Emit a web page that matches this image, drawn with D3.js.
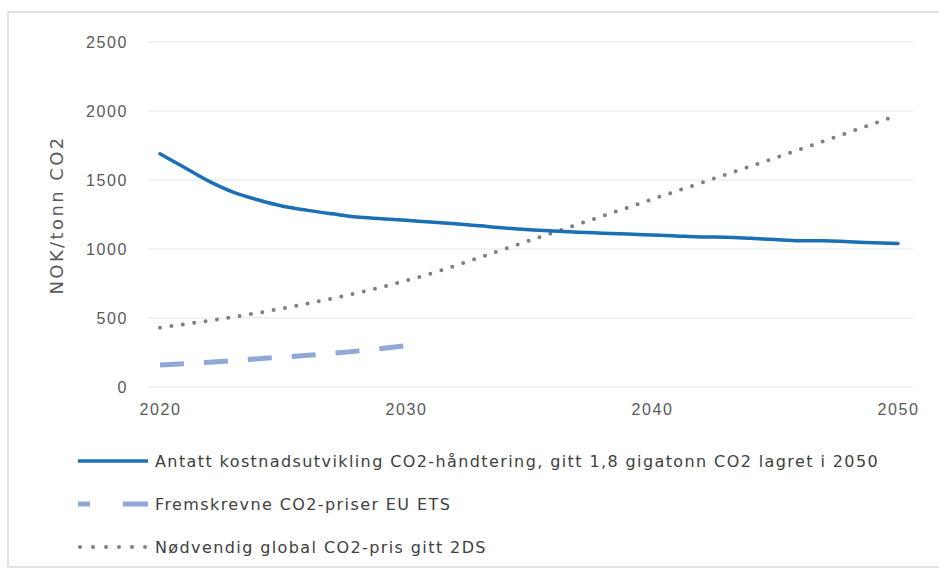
<!DOCTYPE html>
<html>
<head>
<meta charset="utf-8">
<script src="https://cdn.jsdelivr.net/npm/d3@7"></script>
<style>
  body { margin: 0; background: #fff; }
  svg { display: block; font-family: "DejaVu Sans", "Open Sans", sans-serif; }
</style>
</head>
<body>
<svg id="chart" width="939" height="572"></svg>
<script>
// data
const ccsYears = d3.range(2020, 2051)
const ccsCost = [1690, 1590, 1490, 1410, 1355, 1310, 1280, 1255, 1232, 1220,
                 1208, 1195, 1183, 1168, 1152, 1140, 1130, 1122, 1115, 1108,
                 1102, 1094, 1087, 1086, 1078, 1068, 1060, 1060, 1052, 1046, 1040]
const etsYears = [2020, 2022, 2024, 2026, 2028, 2030]
const etsPrice = [160, 180, 205, 230, 260, 300]
const dsYears = [2020, 2025, 2030, 2035, 2040, 2045, 2050]
const dsPrice = [430, 570, 770, 1060, 1360, 1660, 1970]

const yTicks = [0, 500, 1000, 1500, 2000, 2500]
const xTicks = [2020, 2030, 2040, 2050]
const legendLabels = [
  'Antatt kostnadsutvikling CO2-håndtering, gitt 1,8 gigatonn CO2 lagret i 2050',
  'Fremskrevne CO2-priser EU ETS',
  'Nødvendig global CO2-pris gitt 2DS'
]

const blue = '#1a6fb5', lightBlue = '#8fa8d8', grey = '#7f7f7f'

const svg = d3.select('#chart')

// outer frame
svg.append('rect')
  .attr('x', 8).attr('y', 12)
  .attr('width', 945).attr('height', 555)
  .attr('fill', 'none')
  .attr('stroke', '#d9d9d9')
  .attr('stroke-width', 1.5)

const x = d3.scaleLinear().domain([2020, 2050]).range([160, 898])
const y = d3.scaleLinear().domain([0, 2500]).range([387, 42])

// gridlines
svg.append('g').selectAll('line').data(yTicks).join('line')
  .attr('x1', 148).attr('x2', 913)
  .attr('y1', d => y(d)).attr('y2', d => y(d))
  .attr('stroke', '#e6e6e6')
  .attr('stroke-width', 1.2)

// y axis ticks
const yAxis = svg.append('g')
  .attr('transform', 'translate(148,0)')
  .call(d3.axisLeft(y).tickValues(yTicks).tickFormat(d3.format('d')).tickSize(0).tickPadding(20))
yAxis.select('.domain').remove()
yAxis.selectAll('text')
  .attr('fill', '#595959')
  .style('font-size', '16px')
  .style('letter-spacing', '1.6px')

// x axis ticks
const xAxis = svg.append('g')
  .attr('transform', 'translate(0,387)')
  .call(d3.axisBottom(x).tickValues(xTicks).tickFormat(d3.format('d')).tickSize(0).tickPadding(17))
xAxis.select('.domain').remove()
xAxis.selectAll('text')
  .attr('fill', '#595959')
  .style('font-size', '16px')
  .style('letter-spacing', '1.6px')

// y title
svg.append('text')
  .attr('transform', 'translate(63,215) rotate(-90)')
  .attr('text-anchor', 'middle')
  .attr('fill', '#595959')
  .style('font-size', '18px')
  .style('letter-spacing', '2.4px')
  .text('NOK/tonn CO2')

// lines
const line = d3.line().curve(d3.curveMonotoneX)

svg.append('path')
  .attr('d', line(dsYears.map((yr, i) => [x(yr), y(dsPrice[i])])))
  .attr('fill', 'none')
  .attr('stroke', grey)
  .attr('stroke-width', 4)
  .attr('stroke-linecap', 'round')
  .attr('stroke-dasharray', '0 11.5')

svg.append('path')
  .attr('d', line(etsYears.map((yr, i) => [x(yr), y(etsPrice[i])])))
  .attr('fill', 'none')
  .attr('stroke', lightBlue)
  .attr('stroke-width', 5)
  .attr('stroke-dasharray', '24 20')

svg.append('path')
  .attr('d', line(ccsYears.map((yr, i) => [x(yr), y(ccsCost[i])])))
  .attr('fill', 'none')
  .attr('stroke', blue)
  .attr('stroke-width', 3.5)
  .attr('stroke-linecap', 'round')

// legend
const legendStyles = [
  { stroke: blue, width: 3.5, dash: null, cap: 'butt' },
  { stroke: lightBlue, width: 5, dash: '12 33 26', cap: 'butt' },
  { stroke: grey, width: 4, dash: '0 13', cap: 'round' }
]
const lg = svg.append('g').selectAll('g').data(legendLabels).join('g')
  .attr('transform', (_, i) => `translate(0,${461 + 43 * i})`)

lg.append('line')
  .attr('x1', (_, i) => i === 2 ? 80 : 78).attr('x2', 148)
  .attr('stroke', (_, i) => legendStyles[i].stroke)
  .attr('stroke-width', (_, i) => legendStyles[i].width)
  .attr('stroke-dasharray', (_, i) => legendStyles[i].dash)
  .attr('stroke-linecap', (_, i) => legendStyles[i].cap)

lg.append('text')
  .attr('x', 155)
  .attr('dy', '0.35em')
  .attr('fill', '#404040')
  .style('font-size', '16px')
  .style('letter-spacing', '1.4px')
  .text(d => d)
</script>
</body>
</html>
